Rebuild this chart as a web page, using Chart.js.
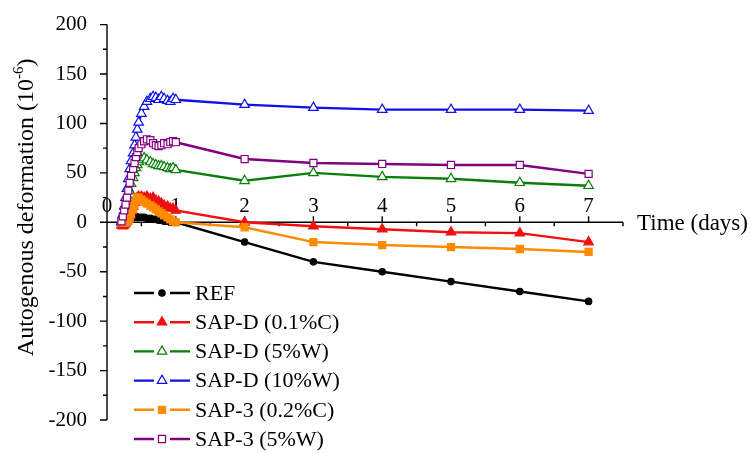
<!DOCTYPE html>
<html>
<head>
<meta charset="utf-8">
<script src="https://cdn.jsdelivr.net/npm/chart.js@4"></script>
<style>
  html, body { margin: 0; padding: 0; background: #ffffff; }
  canvas { display: block; }
</style>
</head>
<body>
<canvas id="chart" width="751" height="453"></canvas>
<script>
// Sampling times in days: dense readings during the first day, then daily readings
const timeDays = [0.21, 0.23, 0.25, 0.27, 0.29, 0.31, 0.33, 0.35, 0.38, 0.40, 0.42, 0.44, 0.46,
                  0.50, 0.54, 0.58, 0.63, 0.67, 0.71, 0.75, 0.79, 0.83, 0.88, 0.92, 0.96, 1.00,
                  2, 3, 4, 5, 6, 7];

// Autogenous deformation (10^-6) of each mix
const refValues   = [0, 0, 0, 0, 1, 2, 3, 4, 5, 5, 6, 5, 5,
                     5, 5, 4, 4, 3, 3, 2, 2, 1, 1, 0, 0, 0,
                     -20, -40, -50, -60, -70, -80];
const sapD01C     = [-3, -4, -3, -1, 1, 4, 8, 12, 16, 20, 23, 25, 26,
                     26, 25, 26, 24, 25, 22, 21, 19, 17, 16, 14, 14, 12,
                     0, -4, -7, -10, -11, -20];
const sapD5W      = [0, 3, 7, 12, 18, 25, 32, 39, 45, 50, 55, 58, 61,
                     63, 65, 63, 61, 59, 58, 57, 57, 56, 55, 54, 55, 53,
                     42, 50, 46, 44, 40, 37];
const sapD10W     = [1, 8, 16, 25, 34, 44, 54, 62, 70, 78, 86, 94, 101,
                     110, 117, 122, 125, 127, 126, 124, 127, 125, 123, 122, 125, 124,
                     119, 116, 114, 114, 114, 113];
const sap3_02C    = [0, 0, 0, 0, 1, 2, 4, 8, 13, 18, 22, 25, 25,
                     23, 21, 19, 17, 15, 13, 11, 9, 7, 5, 3, 1, 0,
                     -5, -20, -23, -25, -27, -30];
const sap3_5W     = [1, 6, 12, 18, 25, 32, 40, 47, 54, 60, 66, 71, 75,
                     79, 82, 84, 83, 80, 78, 77, 78, 80, 79, 81, 82, 81,
                     64, 60, 59, 58, 58, 49];

const seriesNames = ['REF', 'SAP-D (0.1%C)', 'SAP-D (5%W)', 'SAP-D (10%W)', 'SAP-3 (0.2%C)', 'SAP-3 (5%W)'];

// Axis tick values
const dayTicks = [0, 1, 2, 3, 4, 5, 6, 7];
const strainTicks = [-200, -150, -100, -50, 0, 50, 100, 150, 200];

const FONT = "'Liberation Serif', 'Times New Roman', serif";

function toPoints(values) {
  return values.map((v, i) => ({ x: timeDays[i], y: v }));
}

const looks = [
  { color: '#000000', fill: '#000000', style: 'circle',   radius: 3.2 },
  { color: '#f01010', fill: '#f01010', style: 'triangle', radius: 5.5 },
  { color: '#0a7d0a', fill: '#ffffff', style: 'triangle', radius: 5.5 },
  { color: '#1010e8', fill: '#ffffff', style: 'triangle', radius: 5.5 },
  { color: '#ff8a00', fill: '#ff8a00', style: 'rect',     radius: 5 },
  { color: '#800080', fill: '#ffffff', style: 'rect',     radius: 5 }
];

const seriesValues = [refValues, sapD01C, sapD5W, sapD10W, sap3_02C, sap3_5W];

const datasets = seriesValues.map((vals, i) => ({
  label: seriesNames[i],
  data: toPoints(vals),
  borderColor: looks[i].color,
  backgroundColor: looks[i].fill,
  borderWidth: 2.4,
  pointStyle: looks[i].style,
  pointRadius: looks[i].radius,
  pointBackgroundColor: looks[i].fill,
  pointBorderColor: looks[i].color,
  pointBorderWidth: 1.2,
  tension: 0,
  // later series are painted over earlier ones
  order: seriesValues.length - i
}));

// Axis lines and tick marks, placed through the chart's scales
const axesPlugin = {
  id: 'axesPlugin',
  beforeDatasetsDraw(chart) {
    const { ctx, scales: { x, y } } = chart;
    const x0 = x.getPixelForValue(0);
    const xEnd = x.getPixelForValue(x.max);
    const y0 = y.getPixelForValue(0);
    ctx.save();
    ctx.strokeStyle = '#000';
    ctx.lineWidth = 1.4;
    ctx.beginPath();
    ctx.moveTo(x0, y.getPixelForValue(y.max));
    ctx.lineTo(x0, y.getPixelForValue(y.min));
    ctx.moveTo(x0, y0);
    ctx.lineTo(xEnd, y0);
    // y: major ticks outward, minor ticks between them
    strainTicks.forEach(v => {
      const p = y.getPixelForValue(v);
      ctx.moveTo(x0, p); ctx.lineTo(x0 - 7, p);
      if (v + 25 <= y.max) {
        const q = y.getPixelForValue(v + 25);
        ctx.moveTo(x0, q); ctx.lineTo(x0 - 4, q);
      }
    });
    // x: major ticks above the axis, minor ticks below it
    dayTicks.forEach(v => {
      const p = x.getPixelForValue(v);
      ctx.moveTo(p, y0); ctx.lineTo(p, y0 - 6);
      if (v + 0.5 <= x.max) {
        const q = x.getPixelForValue(v + 0.5);
        ctx.moveTo(q, y0); ctx.lineTo(q, y0 + 4);
      }
    });
    ctx.stroke();
    ctx.restore();
  },
  afterDraw(chart) {
    const { ctx, scales: { x, y } } = chart;
    ctx.save();
    ctx.fillStyle = '#000';

    // y-axis title with superscript exponent
    const partA = 'Autogenous deformation (10';
    const partB = '-6';
    const partC = ')';
    ctx.translate(27, (y.getPixelForValue(y.max) + y.getPixelForValue(y.min)) / 2 - 15);
    ctx.rotate(-Math.PI / 2);
    ctx.textBaseline = 'middle';
    ctx.font = '24px ' + FONT;
    const wA = ctx.measureText(partA).width;
    const wC = ctx.measureText(partC).width;
    ctx.font = '15px ' + FONT;
    const wB = ctx.measureText(partB).width;
    let cx = -(wA + wB + wC) / 2;
    ctx.font = '24px ' + FONT;
    ctx.fillText(partA, cx, 0);
    cx += wA;
    ctx.font = '15px ' + FONT;
    ctx.fillText(partB, cx, -8);
    cx += wB;
    ctx.font = '24px ' + FONT;
    ctx.fillText(partC, cx, 0);
    ctx.setTransform(1, 0, 0, 1, 0, 0);

    // x-axis title at the right end of the axis
    ctx.font = '23px ' + FONT;
    ctx.textBaseline = 'middle';
    ctx.textAlign = 'left';
    ctx.fillText('Time (days)', x.getPixelForValue(x.max) + 14, y.getPixelForValue(0) + 2);

    // legend
    const lx0 = 134, lx1 = 190, mx = 162, tx = 195;
    let ly = 293;
    chart.data.datasets.forEach((ds, i) => {
      ctx.strokeStyle = ds.borderColor;
      ctx.lineWidth = 2.4;
      ctx.beginPath();
      ctx.moveTo(lx0, ly); ctx.lineTo(mx - 8, ly);
      ctx.moveTo(mx + 8, ly); ctx.lineTo(lx1, ly);
      ctx.stroke();
      ctx.fillStyle = ds.pointBackgroundColor;
      ctx.strokeStyle = ds.pointBorderColor;
      ctx.lineWidth = ds.pointBorderWidth;
      Chart.helpers.drawPoint(ctx, {
        pointStyle: ds.pointStyle, radius: ds.pointRadius, rotation: 0, borderWidth: ds.pointBorderWidth
      }, mx, ly);
      ctx.fillStyle = '#000';
      ctx.font = '22px ' + FONT;
      ctx.textAlign = 'left';
      ctx.textBaseline = 'middle';
      ctx.fillText(ds.label, tx, ly + 1);
      ly += 29.2;
    });
    ctx.restore();
  }
};

new Chart(document.getElementById('chart'), {
  type: 'line',
  data: { datasets },
  options: {
    responsive: false,
    animation: false,
    devicePixelRatio: 1,
    layout: { padding: { left: 0, right: 128, top: 17, bottom: 33 } },
    plugins: { legend: { display: false }, tooltip: { enabled: false } },
    scales: {
      x: {
        type: 'linear',
        position: { y: 0 },
        min: 0,
        max: 7.5,
        afterBuildTicks: s => { s.ticks = dayTicks.map(v => ({ value: v })); },
        grid: { display: false },
        border: { display: false },
        ticks: { color: '#000', font: { family: FONT, size: 21 }, padding: -36, maxRotation: 0, autoSkip: false }
      },
      y: {
        type: 'linear',
        position: 'left',
        min: -200,
        max: 200,
        afterBuildTicks: s => { s.ticks = strainTicks.map(v => ({ value: v })); },
        afterFit: s => { s.width = 107; },
        grid: { display: false },
        border: { display: false },
        ticks: { color: '#000', font: { family: FONT, size: 21 }, padding: 12 }
      }
    }
  },
  plugins: [axesPlugin]
});
</script>
</body>
</html>
